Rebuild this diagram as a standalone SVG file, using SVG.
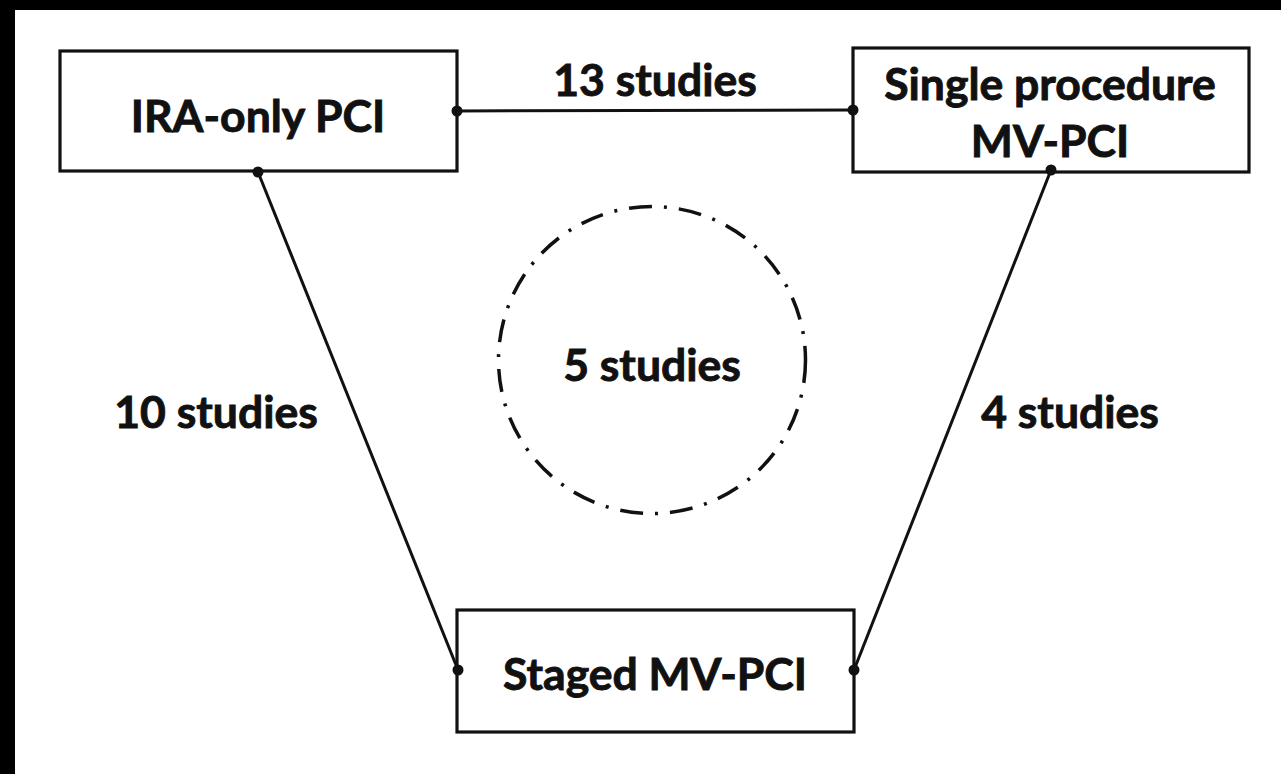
<svg xmlns="http://www.w3.org/2000/svg" width="1281" height="774" viewBox="0 0 1281 774">
<style>
.box{fill:#fff;stroke:#111;stroke-width:3.2}
.lbl{font-family:"Lato","Liberation Sans",sans-serif;font-weight:bold;font-size:44.5px;fill:#111;stroke:#111;stroke-width:0.9;text-anchor:middle}
.edge{stroke:#111;stroke-width:3;fill:none}
.dot{fill:#111}
</style>
<rect x="0" y="0" width="1281" height="774" fill="#fff"/>
<rect x="0" y="0" width="1281" height="10" fill="#000"/>
<rect x="0" y="0" width="15" height="774" fill="#000"/>
<g id="connectors">
<line class="edge" x1="457" y1="111" x2="853" y2="110"/>
<line class="edge" x1="258" y1="172" x2="458" y2="670"/>
<line class="edge" x1="1051" y1="170" x2="854" y2="670"/>
<text class="lbl" x="655" y="96">13 studies</text>
<text class="lbl" x="216" y="428">10 studies</text>
<text class="lbl" x="1070" y="428">4 studies</text>
</g>
<g id="ira">
<rect class="box" x="60" y="51" width="397" height="120"/>
<text class="lbl" x="258" y="132">IRA-only PCI</text>
</g>
<g id="single">
<rect class="box" x="853" y="48" width="396" height="124"/>
<text class="lbl" x="1050" y="100">Single procedure</text>
<text class="lbl" x="1050" y="157">MV-PCI</text>
</g>
<g id="staged">
<rect class="box" x="457" y="610" width="397" height="122"/>
<text class="lbl" x="655" y="690">Staged MV-PCI</text>
</g>
<g id="five">
<circle cx="652" cy="360" r="153.5" fill="none" stroke="#111" stroke-width="3.5" stroke-dasharray="23 12 3 12"/>
<text class="lbl" x="652" y="381">5 studies</text>
</g>
<g id="dots">
<circle class="dot" cx="457" cy="111" r="5.5"/>
<circle class="dot" cx="853" cy="110" r="5.5"/>
<circle class="dot" cx="258" cy="172" r="5.5"/>
<circle class="dot" cx="1051" cy="170" r="5.5"/>
<circle class="dot" cx="458" cy="670" r="5.5"/>
<circle class="dot" cx="854" cy="670" r="5.5"/>
</g>
</svg>
